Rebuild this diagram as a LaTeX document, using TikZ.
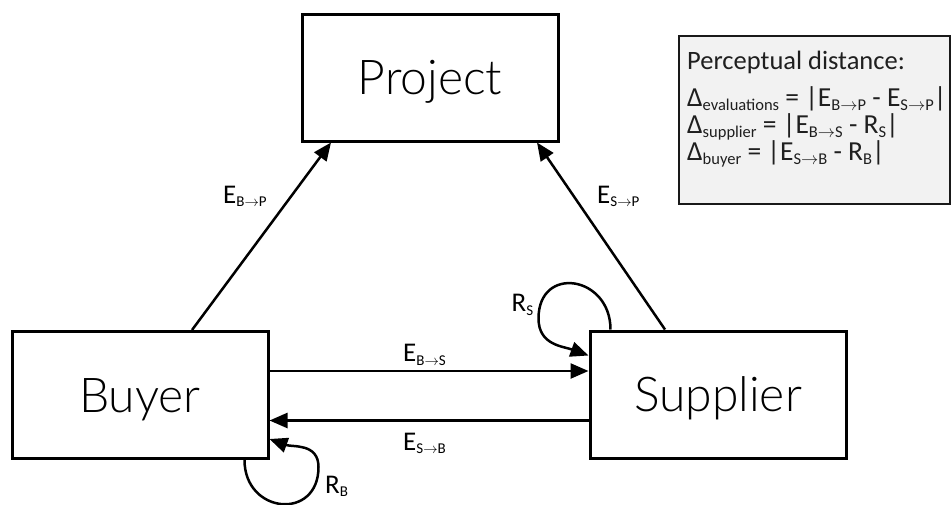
\documentclass[tikz,border=0pt]{standalone}
\usepackage{fontspec}
\setmainfont{Carlito}
\newfontfamily\lightfont{Lato Light}
\usetikzlibrary{arrows.meta}

% lowered subscripts for the edge labels and for the legend lines
\newcommand{\lsub}[1]{\raisebox{-3.5pt}{\fontsize{15}{15}\selectfont #1}}
\newcommand{\isub}[1]{\raisebox{-4pt}{\fontsize{16.5}{16.5}\selectfont #1}}
\newcommand{\rarr}{$\rightarrow$}

\begin{document}
\begin{tikzpicture}[x=1pt,y=1pt,
  box/.style={draw, line width=3pt, minimum width=256pt, minimum height=127pt,
    inner sep=0pt, font=\lightfont\fontsize{48}{48}\selectfont, text height=34pt, text depth=0pt},
  link/.style={line width=2.5pt, -{Triangle[length=18pt,width=15pt]}},
  lbl/.style={anchor=base west, inner sep=0pt, font=\fontsize{27}{27}\selectfont},
  legendline/.style={anchor=base west, inner sep=0pt, text=black!88,
    text height=18pt, text depth=3pt}
]
\useasboundingbox (0,0) rectangle (952,-504);

% the three actors
\node[box] (project) at (430,-77.5) {Project};
\node[box] (buyer) at (140,-395) {Buyer};
\node[box] (supplier) at (718,-394.5) {Supplier};

% legend panel
\node[draw=black!90, line width=2.3pt, fill=black!5, minimum width=271pt,
  minimum height=168pt, anchor=north west, inner sep=0pt] (legend) at (678,-35) {};

% evaluations of the project
\draw[link] ([xshift=52pt]buyer.north) -- ([xshift=-99pt]project.south);
\draw[link] ([xshift=-53pt]supplier.north) -- ([xshift=107pt]project.south);

% mutual evaluations
\draw[link] ([yshift=24pt]buyer.east) -- ([yshift=24pt]buyer.east -| supplier.west);
\draw[link] ([yshift=-26pt]supplier.west) -- ([yshift=-26pt]supplier.west -| buyer.east);

% self-ratings
\draw[link] ([xshift=22pt]supplier.north west)
  to[out=90,in=90,looseness=1.9] ([xshift=-50pt,yshift=11pt]supplier.north west)
  to[out=-90,in=160,looseness=1.1] ([yshift=-26pt]supplier.north west);
\draw[link] ([xshift=-25pt]buyer.south east)
  to[out=-90,in=-90,looseness=1.86] ([xshift=49pt,yshift=-7pt]buyer.south east)
  to[out=90,in=-20,looseness=1.1] ([yshift=21pt]buyer.south east);

% edge labels
\node[lbl] (ebp) at (223,-203) {E\lsub{B\rarr P}};
\node[lbl] (esp) at (597,-203) {E\lsub{S\rarr P}};
\node[lbl] (ebs) at (403,-361.5) {E\lsub{B\rarr S}};
\node[lbl] (esb) at (403,-450) {E\lsub{S\rarr B}};
\node[lbl] (rs) at (511.5,-311.5) {R\lsub{S}};
\node[lbl] (rb) at (325,-493) {R\lsub{B}};

% legend text
\node[legendline, font=\fontsize{26.5}{26.5}\selectfont] (title) at (687,-69) {Perceptual distance:};
\node[legendline, font=\fontsize{27.5}{27.5}\selectfont] (deval) at (687,-106)
  {Δ\isub{evaluations} = |E\isub{B\rarr P} - E\isub{S\rarr P}|};
\node[legendline, font=\fontsize{27.5}{27.5}\selectfont] (dsup) at (687,-133.5)
  {Δ\isub{supplier} = |E\isub{B\rarr S} - R\isub{S}|};
\node[legendline, font=\fontsize{27.5}{27.5}\selectfont] (dbuy) at (687,-160.5)
  {Δ\isub{buyer} = |E\isub{S\rarr B} - R\isub{B}|};
\end{tikzpicture}
\end{document}
